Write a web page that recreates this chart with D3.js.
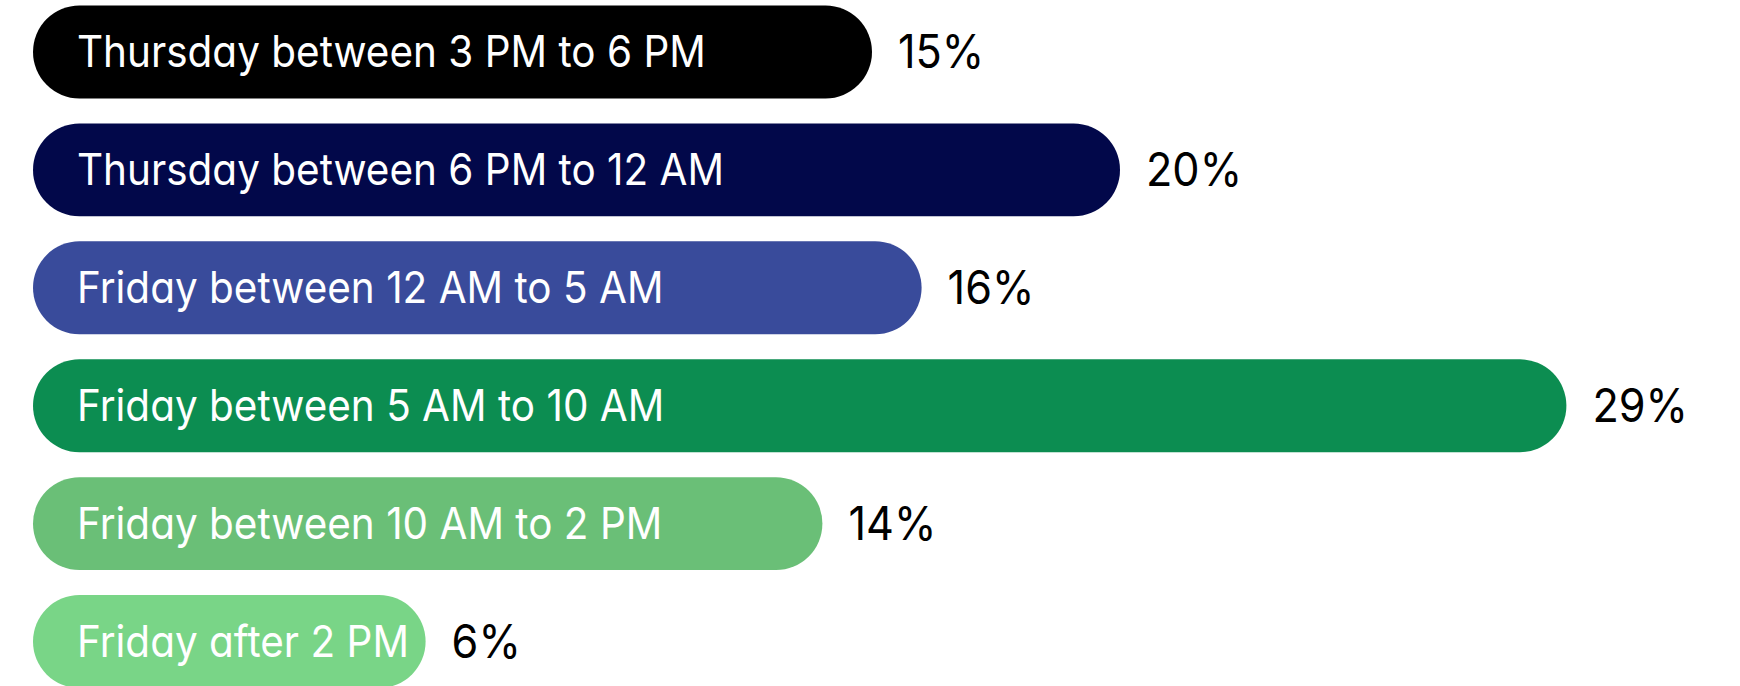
<!DOCTYPE html>
<html>
<head>
<meta charset="utf-8">
<script src="https://cdn.jsdelivr.net/npm/d3@7"></script>
<style>
  html, body { margin: 0; padding: 0; background: #ffffff; }
  svg { display: block; }
  text { font-family: Inter, "Open Sans", sans-serif; font-feature-settings: "cv11" 1; }
</style>
</head>
<body>
<svg id="chart" width="1740" height="686"></svg>
<script>
// Share of responses by time window
const categories = [
  "Thursday between 3 PM to 6 PM",
  "Thursday between 6 PM to 12 AM",
  "Friday between 12 AM to 5 AM",
  "Friday between 5 AM to 10 AM",
  "Friday between 10 AM to 2 PM",
  "Friday after 2 PM"
];
const values = [15, 20, 16, 29, 14, 6];
const colors = ["#000000", "#02084a", "#394b9b", "#0c8d51", "#6abf77", "#79d587"];

const data = categories.map((c, i) => ({ category: c, value: values[i], color: colors[i] }));

const svg = d3.select("#chart");
const barLeft = 33;
const squeeze = 0.92;   // narrow the glyphs a little

// Bar end position; the range starts past the left edge so short bars still hold their label
const x = d3.scaleLinear().domain([0, 30]).range([128, 1616]);
const y = d3.scaleBand().domain(categories).range([5.5, 688]).paddingInner(0.212).paddingOuter(0);

const h = y.bandwidth();
const r = h / 2;

const rows = svg.append("g").selectAll("g.row").data(data).join("g").attr("class", "row");

rows.append("rect")
  .attr("x", barLeft)
  .attr("y", d => y(d.category))
  .attr("width", d => x(d.value) - barLeft)
  .attr("height", h)
  .attr("rx", r)
  .attr("ry", r)
  .attr("fill", d => d.color);

rows.append("text")
  .attr("transform", d => `translate(77,${y(d.category) + h / 2 + 15}) scale(${squeeze},1)`)
  .attr("fill", "#ffffff")
  .attr("font-size", 44)
  .attr("font-weight", 400)
  .text(d => d.category);

rows.append("text")
  .attr("transform", d => `translate(${x(d.value) + 26},${y(d.category) + h / 2 + 16}) scale(${squeeze},1)`)
  .attr("fill", "#000000")
  .attr("font-size", 47)
  .attr("font-weight", 400)
  .text(d => d.value + "%");
</script>
</body>
</html>
